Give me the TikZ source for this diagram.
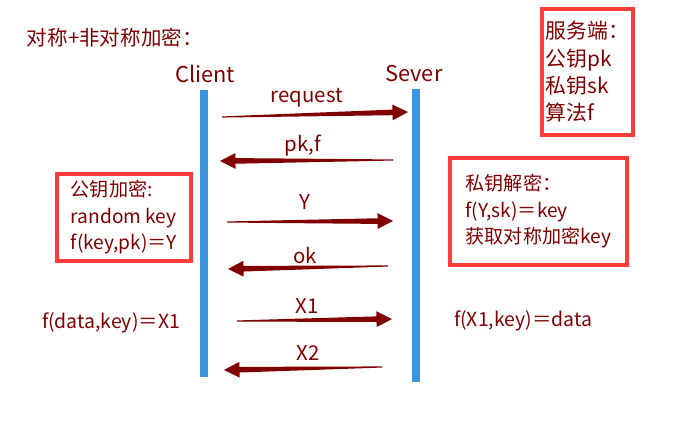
\documentclass[tikz,border=0pt]{standalone}
\usepackage{fontspec}
\setmainfont{Noto Sans CJK SC}
\usetikzlibrary{calc}
\definecolor{dkred}{HTML}{800000}
\definecolor{boxred}{HTML}{FF3B3B}
\definecolor{lineblue}{HTML}{3A94DE}

% tapered message arrow, tail #1 to tip #2
\newcommand{\msgarrow}[2]{%
  \coordinate (#1-h) at ($(#2)!11pt!(#1)$);
  \fill[dkred] ($(#1)!0.4pt!90:(#2)$) -- ($(#1-h)!2pt!90:(#2)$)
    -- ($(#1-h)!5.6pt!90:(#2)$) -- (#2) -- ($(#1-h)!5.6pt!-90:(#2)$)
    -- ($(#1-h)!2pt!-90:(#2)$) -- ($(#1)!0.4pt!-90:(#2)$) -- cycle;}

\begin{document}
\begin{tikzpicture}[
  x=0.025cm, y=-0.025cm,
  title/.style={font=\fontsize{14.6}{17}\selectfont, text=dkred},
  actor/.style={font=\fontsize{15.5}{18}\selectfont, text=dkred},
  lifeline/.style={fill=lineblue, minimum width=0.2cm, inner sep=0pt},
  notebox/.style={draw=boxred, line width=2.2pt, text=dkred, align=left,
    inner sep=0pt, font=\fontsize{13.6}{18.8}\selectfont},
  msglabel/.style={font=\fontsize{14.5}{16}\selectfont, text=dkred},
  formula/.style={font=\fontsize{13.8}{16}\selectfont, text=dkred},
]

% Canvas
\useasboundingbox (0,0) rectangle (698,444);

% Title
\node[title, anchor=west] (ttl) at (22,38) {对称+非对称加密：};

% =============================================
% Actors and lifelines
% =============================================
\node[actor] (client) at (205,74) {Client};
\node[actor] (sever) at (414,74) {Sever};

\node[lifeline, minimum height=7.175cm] (clline) at (204,233.5) {};
\node[lifeline, minimum height=7.325cm] (svline) at (416,235.5) {};

% =============================================
% Note boxes
% =============================================
\node[notebox, minimum width=2.275cm, minimum height=3.15cm,
  font=\fontsize{14.8}{19.4}\selectfont] (svkeys) at (587.5,72)
  {服务端：\\公钥pk\\私钥sk\\算法f};

\node[notebox, minimum width=3.35cm, minimum height=2.175cm] (encbox) at (124,217.5)
  {公钥加密:\\random key\\f(key,pk)＝Y};

\node[notebox, minimum width=4.425cm, minimum height=2.675cm] (decbox) at (538.5,211.5)
  {私钥解密：\\f(Y,sk)＝key\\获取对称加密key};

% =============================================
% Messages
% =============================================
\coordinate (req-s) at (222,117);  \coordinate (req-e) at (408,112);
\coordinate (pk-s) at (393,160);   \coordinate (pk-e) at (220,161);
\coordinate (y-s) at (227,222);    \coordinate (y-e) at (393,221);
\coordinate (ok-s) at (388,266);   \coordinate (ok-e) at (228,269);
\coordinate (xa-s) at (237,321);   \coordinate (xa-e) at (392,319);
\coordinate (xb-s) at (382,367);   \coordinate (xb-e) at (224,370);

\msgarrow{req-s}{req-e}
\msgarrow{pk-s}{pk-e}
\msgarrow{y-s}{y-e}
\msgarrow{ok-s}{ok-e}
\msgarrow{xa-s}{xa-e}
\msgarrow{xb-s}{xb-e}

\node[msglabel] (lreq) at (307,98) {request};
\node[msglabel] (lpk) at (303,146) {pk,f};
\node[msglabel] (ly) at (305,202) {Y};
\node[msglabel] (lok) at (305,256) {ok};
\node[msglabel] (lxa) at (307,306) {X1};
\node[msglabel] (lxb) at (308,353) {X2};

% Symmetric step
\node[formula] (clenc) at (111,323) {f(data,key)＝X1};
\node[formula] (svdec) at (523,321) {f(X1,key)＝data};

\end{tikzpicture}
\end{document}
